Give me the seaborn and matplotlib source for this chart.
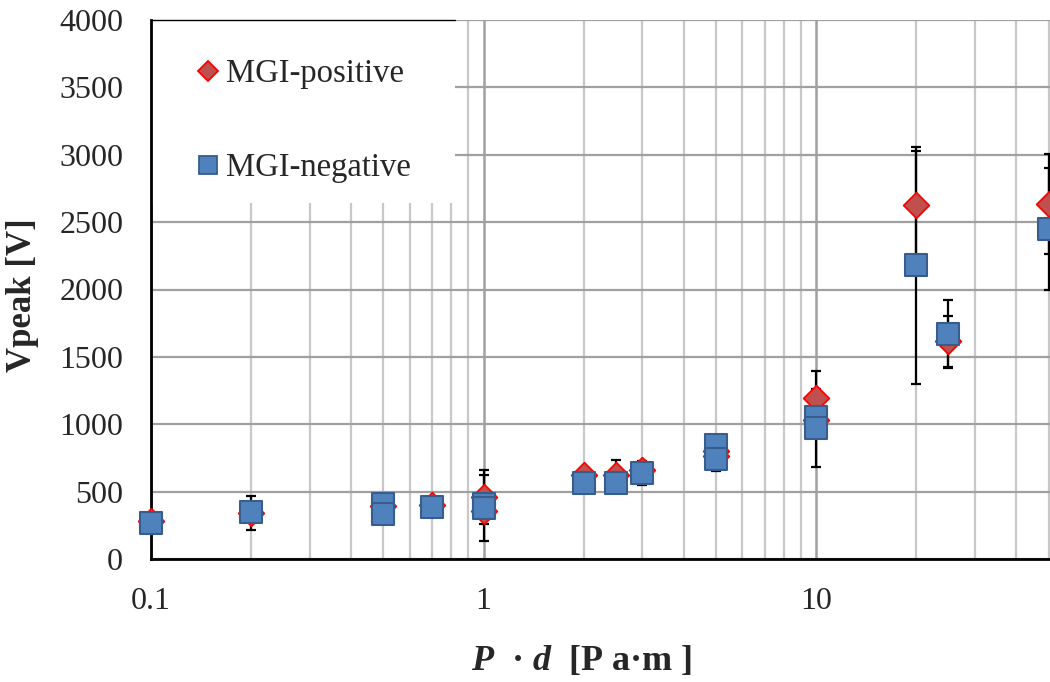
import numpy as np
import pandas as pd
import seaborn as sns
import matplotlib
matplotlib.use("Agg")
import matplotlib.pyplot as plt
from matplotlib.patches import Rectangle
from matplotlib.lines import Line2D
from matplotlib.ticker import FixedLocator, LogLocator, NullFormatter

# ---------------- data ----------------
pos_x = [0.1, 0.2, 0.5, 0.7, 1, 1, 2, 2.5, 3, 5, 5, 10, 10, 20, 25, 50]
pos_y = [282, 342, 390, 400, 460, 355, 620, 625, 660, 800, 765, 1195, 1035, 2626, 1617, 2634]
pos_err = [0, 126, 0, 0, 200, 0, 0, 110, 0, 0, 0, 200, 0, 400, 190, 370]

neg_x = [0.1, 0.2, 0.5, 0.5, 0.7, 1, 1, 2, 2.5, 3, 5, 5, 10, 10, 20, 25, 50]
neg_y = [267, 350, 410, 335, 385, 405, 378, 567, 567, 638, 846, 742, 1053, 972, 2181, 1669, 2448]
neg_err = [0, 0, 0, 0, 0, 0, 245, 0, 0, 90, 0, 90, 0, 290, 880, 250, 455]

series_labels = ["MGI-positive", "MGI-negative"]
x_ticks = [0.1, 1, 10]
x_tick_labels = ["0.1", "1", "10"]
y_ticks = [0, 500, 1000, 1500, 2000, 2500, 3000, 3500, 4000]

pos_df = pd.DataFrame({"x": pos_x, "y": pos_y, "err": pos_err})
neg_df = pd.DataFrame({"x": neg_x, "y": neg_y, "err": neg_err})

# ---------------- style ----------------
sns.set_style("white")
plt.rcParams["font.family"] = ["Liberation Serif", "DejaVu Serif"]
plt.rcParams["mathtext.fontset"] = "custom"
plt.rcParams["mathtext.it"] = "Liberation Serif:italic:bold"
plt.rcParams["mathtext.rm"] = "Liberation Serif:bold"
plt.rcParams["mathtext.bf"] = "Liberation Serif:bold"

fig = plt.figure(figsize=(10.5, 6.82), dpi=100)
ax = fig.add_axes([151 / 1050, (682 - 559) / 682, 1 - 151 / 1050, (559 - 20) / 682])

POS_FACE, POS_EDGE = "#C0504D", "#FF0000"
NEG_FACE, NEG_EDGE = "#4F81BD", "#385D8A"

# error bars (below markers)
for df in (pos_df, neg_df):
    ax.errorbar(df["x"], df["y"], yerr=df["err"], fmt="none", ecolor="black",
                elinewidth=1.6, capsize=3.6, capthick=1.6, zorder=2.5)

sns.scatterplot(data=pos_df, x="x", y="y", marker="D", s=170, color=POS_FACE,
                edgecolor=POS_EDGE, linewidth=1.3, zorder=3, ax=ax, legend=False,
                clip_on=False)
sns.scatterplot(data=neg_df, x="x", y="y", marker="s", s=255, color=NEG_FACE,
                edgecolor=NEG_EDGE, linewidth=1.5, zorder=4, ax=ax, legend=False,
                clip_on=False)

ax.set_xscale("log")
ax.set_xlim(0.1, 50.5)
ax.set_ylim(0, 4000)
ax.xaxis.set_major_locator(FixedLocator(x_ticks))
ax.set_xticklabels(x_tick_labels)
ax.xaxis.set_minor_locator(LogLocator(base=10, subs=np.arange(2, 10)))
ax.xaxis.set_minor_formatter(NullFormatter())
ax.set_yticks(y_ticks)
ax.set_yticklabels([str(v) for v in y_ticks])

ax.set_axisbelow(True)
ax.grid(True, which="major", axis="y", color="#A0A0A0", lw=1.6)
ax.grid(True, which="major", axis="x", color="#A0A0A0", lw=1.8)
ax.grid(True, which="minor", axis="x", color="#C8C8C8", lw=1.6)

for s in ("top", "right"):
    ax.spines[s].set_visible(False)
for s in ("left", "bottom"):
    ax.spines[s].set_color("black")
    ax.spines[s].set_linewidth(2)

ax.tick_params(axis="both", which="major", direction="in", length=8, width=1.6,
               color="black", labelsize=23, pad=20)
ax.tick_params(axis="x", which="minor", direction="in", length=6, width=1.0,
               color="black")

ax.set_ylabel("Vpeak [V]", fontsize=25, fontweight="bold")
ax.yaxis.set_label_coords(-0.125, 0.49)
ax.set_xlabel(r"$P$  · $d$  [P a·m ]", fontsize=26, fontweight="bold")
ax.xaxis.set_label_coords(0.479, -0.158)

# legend white box
ax.add_patch(Rectangle((0, 0.66), 0.338, 0.345, transform=ax.transAxes,
                       facecolor="white", edgecolor="none", zorder=1.5, clip_on=False))
ax.plot([0, 0.338], [1.0, 1.0], transform=ax.transAxes, color="black", lw=1.0,
        zorder=1.6, clip_on=False)

handles = [
    Line2D([], [], ls="none", marker="D", markersize=10.5, markerfacecolor=POS_FACE,
           markeredgecolor=POS_EDGE, markeredgewidth=1.3),
    Line2D([], [], ls="none", marker="s", markersize=13.5, markerfacecolor=NEG_FACE,
           markeredgecolor=NEG_EDGE, markeredgewidth=1.3),
]
leg = ax.legend(handles, series_labels, loc="upper left", bbox_to_anchor=(0.0456, 0.928),
                frameon=False, fontsize=23.5, labelspacing=1.95, handletextpad=0.05,
                handlelength=1.0, borderpad=0, borderaxespad=0)
leg.set_zorder(5)

fig.savefig("out.png", dpi=100)
